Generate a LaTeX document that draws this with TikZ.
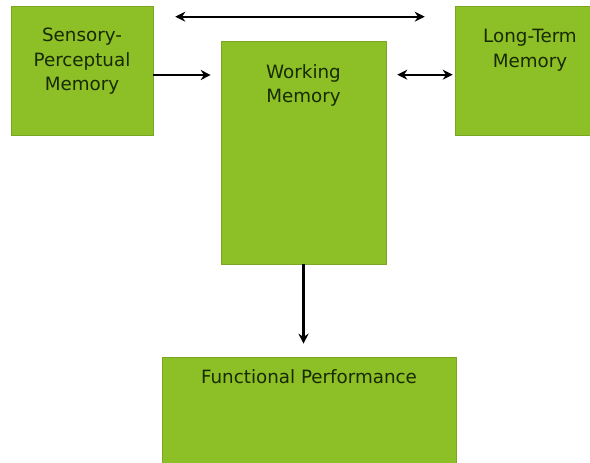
\documentclass[tikz,border=0pt]{standalone}
\usepackage{fontspec}
\setmainfont{DejaVu Sans}
\usetikzlibrary{arrows.meta,positioning}
\definecolor{boxgreen}{HTML}{8DBF27}
\definecolor{boxedge}{HTML}{7AA621}
\definecolor{boxtext}{HTML}{172A00}

\begin{document}
\begin{tikzpicture}[x=1pt, y=1pt]
  \tikzset{
    block/.style={draw=boxedge, line width=0.6pt, fill=boxgreen, inner sep=0pt},
    caption/.style={text=boxtext, font=\fontsize{18.3}{24.5}\selectfont, align=center, anchor=north},
    flow/.style={-{Stealth[length=10pt, width=10pt]}, line width=2.4pt},
    twoway/.style={{Stealth[length=10pt, width=10pt]}-{Stealth[length=10pt, width=10pt]}, line width=2.4pt}
  }
  \useasboundingbox (0,0) rectangle (590,-463);

  \node[block, minimum width=142pt, minimum height=129pt] (sensory) at (82,-70.5) {};
  \node[block, minimum width=165pt, minimum height=223pt] (working) at (303.5,-152.5) {};
  \node[block, minimum width=150pt, minimum height=129pt] (longterm) at (530,-70.5) {};
  \node[block, minimum width=294pt, minimum height=130pt] (functional) at (309,-422) {};

  \node[caption, below=19pt of sensory.north] (sensorytext) {Sensory-\\Perceptual\\Memory};
  \node[caption, below=20pt of working.north] (workingtext) {Working\\Memory};
  \node[caption, below=20pt of longterm.north] (longtermtext) {Long-Term\\Memory};
  \node[caption, below=9pt of functional.north] (functionaltext) {Functional Performance};

  \draw[twoway] ([xshift=22pt, yshift=-11pt]sensory.north east) -- ([xshift=-30pt, yshift=-11pt]longterm.north west);
  \draw[flow, shorten >=10pt] ([yshift=-4.5pt]sensory.east) -- ([yshift=-4.5pt]sensory.east -| working.west);
  \draw[twoway, shorten <=11pt, shorten >=2pt] ([yshift=-34pt]working.north east) -- ([yshift=-34pt]working.north east -| longterm.west);
  \draw[flow, shorten >=13pt] (working.south) -- (working.south |- functional.north);
\end{tikzpicture}
\end{document}
